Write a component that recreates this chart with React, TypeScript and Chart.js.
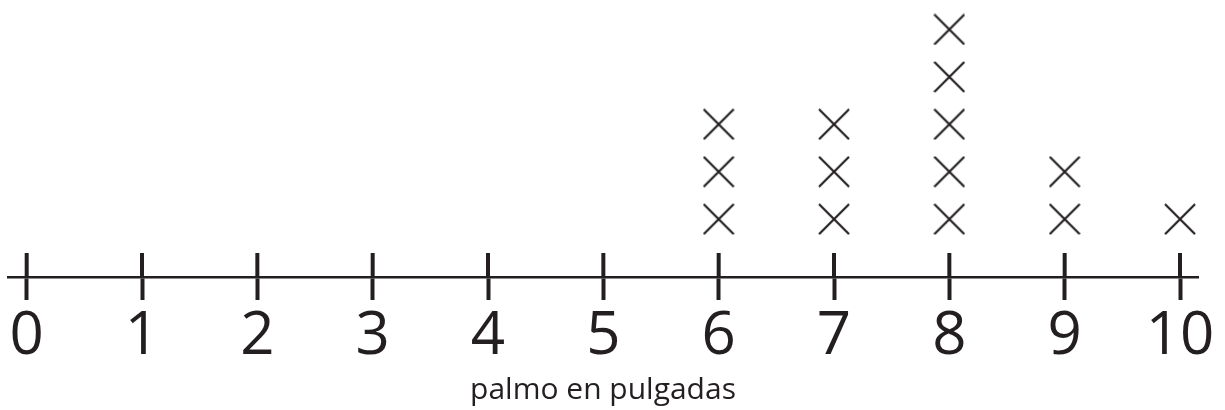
import React, { useEffect, useRef } from "react";
import { Chart, registerables } from "chart.js";

Chart.register(...registerables);

const categories: number[] = [0, 1, 2, 3, 4, 5, 6, 7, 8, 9, 10];
const counts: number[] = [0, 0, 0, 0, 0, 0, 3, 3, 5, 2, 1];
const tickLabels: string[] = ["0", "1", "2", "3", "4", "5", "6", "7", "8", "9", "10"];
const axisTitle = "palmo en pulgadas";

const INK = "#231f20";

function makeCross(size: number, lw: number): HTMLCanvasElement {
  const c = document.createElement("canvas");
  c.width = size;
  c.height = size;
  const g = c.getContext("2d")!;
  g.strokeStyle = INK;
  g.lineWidth = lw;
  g.beginPath();
  g.moveTo(1, 1);
  g.lineTo(size - 1, size - 1);
  g.moveTo(size - 1, 1);
  g.lineTo(1, size - 1);
  g.stroke();
  return c;
}

export default function App() {
  const ref = useRef<HTMLCanvasElement | null>(null);

  useEffect(() => {
    if (!ref.current) return;
    const points: { x: number; y: number }[] = [];
    categories.forEach((c, i) => {
      for (let k = 1; k <= counts[i]; k++) points.push({ x: c, y: k });
    });

    const tickMarks = {
      id: "tickMarks",
      afterDatasetsDraw(chart: any) {
        const xs = chart.scales.x;
        const y0 = chart.chartArea.bottom;
        const ctx = chart.ctx;
        ctx.save();
        ctx.strokeStyle = INK;
        ctx.lineWidth = 4;
        categories.forEach((c) => {
          const px = xs.getPixelForValue(c);
          ctx.beginPath();
          ctx.moveTo(px, y0 - 24);
          ctx.lineTo(px, y0 + 1);
          ctx.stroke();
        });
        ctx.restore();
      },
    };

    const cross = makeCross(32, 2.2);

    const chart = new Chart(ref.current, {
      type: "scatter",
      data: {
        datasets: [
          {
            data: points,
            pointStyle: cross as any,
            radius: 1,
            hoverRadius: 1,
            borderWidth: 0,
            clip: false as any,
          },
        ],
      },
      options: {
        animation: false,
        responsive: false,
        layout: { padding: { left: 8, right: 27, top: 0, bottom: 0 } },
        plugins: { legend: { display: false }, tooltip: { enabled: false } },
        scales: {
          x: {
            type: "linear",
            min: -0.162,
            max: 10.156,
            afterBuildTicks: (axis: any) => {
              axis.ticks = categories.map((v) => ({ value: v }));
            },
            afterFit: (axis: any) => {
              axis.paddingLeft = 0;
              axis.paddingRight = 0;
              axis.height = 133;
            },
            border: { display: true, color: INK, width: 2.5 },
            grid: {
              display: true,
              drawOnChartArea: false,
              drawTicks: true,
              tickLength: 23,
              tickWidth: 4,
              tickColor: INK,
            },
            ticks: {
              autoSkip: false,
              maxRotation: 0,
              padding: 1,
              color: INK,
              font: { family: "Open Sans", size: 60, lineHeight: 1.2 },
              callback: (_v: any, i: number) => tickLabels[i],
            },
            title: {
              display: true,
              text: axisTitle,
              color: INK,
              font: { family: "Open Sans", size: 30, lineHeight: 1.2 },
              padding: { top: 0, bottom: 2 },
            },
          },
          y: {
            display: false,
            min: -0.22,
            max: 5.6,
          },
        },
      },
      plugins: [tickMarks],
    });
    return () => chart.destroy();
  }, []);

  return (
    <div style={{ position: "absolute", left: 0, top: 0, width: 1225, height: 410, background: "#fff" }}>
      <canvas ref={ref} width={1225} height={410} />
    </div>
  );
}
